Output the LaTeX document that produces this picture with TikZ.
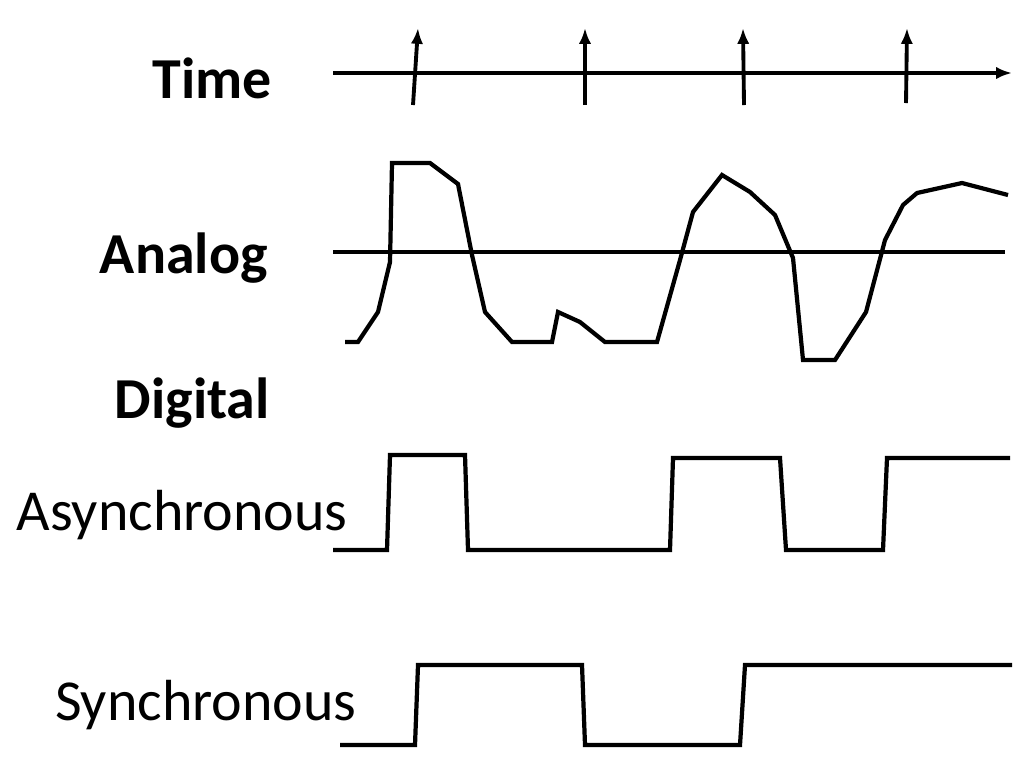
\documentclass[tikz,border=0pt]{standalone}
\usepackage{fontspec}
\setmainfont{Carlito}
\usetikzlibrary{arrows.meta}
\tikzset{
	signal/.style={line width=2.4pt, line join=miter},
	label/.style={anchor=east, inner sep=0pt, font=\fontsize{33}{40}\selectfont},
	tick/.style={line width=2.2pt, -{Latex[length=9pt,width=7pt]}}
}
\begin{document}
\begin{tikzpicture}[x=0.02cm, y=-0.02cm]
		\useasboundingbox (0,0) rectangle (1016,772);
		
		% labels
		\node[label, font=\fontsize{33}{40}\selectfont\bfseries] (time) at (272,78) {Time};
		\node[label, font=\fontsize{33}{40}\selectfont\bfseries] (analog) at (268,258) {Analog};
		\node[label, font=\fontsize{33}{40}\selectfont\bfseries] (digital) at (270,403) {Digital};
		\node[label] (async) at (348,515) {Asynchronous};
		\node[label] (sync) at (357,705) {Synchronous};
		
		% time axis
		\coordinate (T0) at (333,73);
		\coordinate (T1) at (1012,73);
		\draw[tick] (T0) -- (T1);
		\draw[tick] (413,105) -- (418,28);
		\draw[tick] (585,105) -- (585,28);
		\draw[tick] (744,105) -- (743,28);
		\draw[tick] (906,103) -- (907,28);
		
		% analog
		\coordinate (A0) at (333,252);
		\coordinate (A1) at (1005,252);
		\draw[signal] (A0) -- (A1);
		\draw[signal] plot coordinates {(345,342) (358,342) (378,312) (390,262) (392,163) (430,163) (458,184) (472,255) (485,312) (512,342) (552,342) (558,312) (580,322) (605,342) (657,342) (680,260) (693,212) (722,175) (750,192) (775,215) (793,258) (803,360) (835,360) (866,312) (885,240) (903,205) (917,193) (962,183) (1008,195)};
		
		% asynchronous
		\draw[signal] plot coordinates {(333,550) (387,550) (390,455) (465,455) (468,550) (670,550) (673,458) (780,458) (786,550) (883,550) (887,458) (1010,458)};
		
		% synchronous
		\draw[signal] plot coordinates {(340,745) (415,745) (418,665) (582,665) (585,745) (740,745) (745,665) (1012,665)};
		
	\end{tikzpicture}
\end{document}
